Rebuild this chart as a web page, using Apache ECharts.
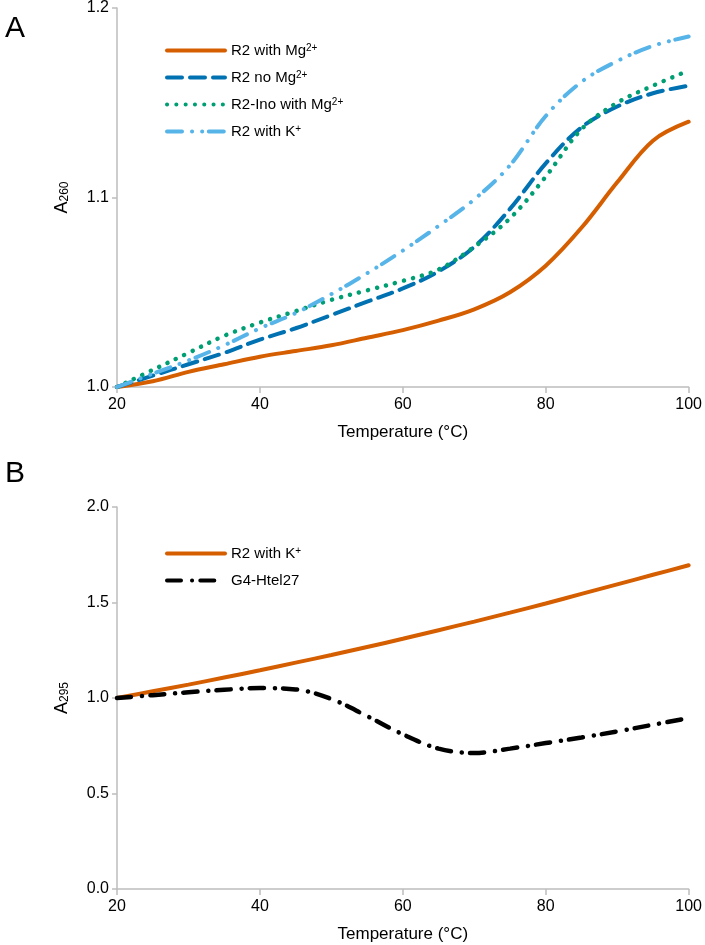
<!DOCTYPE html>
<html><head><meta charset="utf-8">
<script src="https://cdn.jsdelivr.net/npm/echarts@6/dist/echarts.min.js"></script>
<style>html,body{margin:0;padding:0;background:#fff}#c{width:705px;height:945px}</style>
</head><body><div id="c"></div>
<script>
// Temperatures (°C)
const temps = [20,25,30,35,40,45,50,55,60,65,70,75,80,85,90,95,100];
// Panel A: A260
const r2WithMg = [1.000,1.003,1.008,1.012,1.016,1.019,1.022,1.026,1.030,1.035,1.041,1.050,1.064,1.084,1.108,1.130,1.140];
const r2NoMg   = [1.000,1.006,1.012,1.018,1.025,1.031,1.038,1.045,1.052,1.061,1.074,1.094,1.118,1.137,1.148,1.155,1.159];
const r2InoMg  = [1.000,1.009,1.018,1.027,1.034,1.040,1.046,1.051,1.056,1.062,1.074,1.089,1.111,1.136,1.150,1.159,1.167];
const r2WithK_A= [1.000,1.007,1.014,1.022,1.031,1.039,1.049,1.060,1.072,1.085,1.099,1.117,1.143,1.161,1.172,1.180,1.185];
// Panel B: A295
const r2WithK_B= [1.000,1.035,1.070,1.107,1.145,1.185,1.225,1.267,1.310,1.355,1.400,1.447,1.495,1.545,1.595,1.645,1.695];
const g4Htel27 = [1.000,1.015,1.030,1.043,1.052,1.045,0.995,0.905,0.810,0.735,0.712,0.735,0.764,0.793,0.825,0.860,0.895];

const namesA = ['R2 with Mg2+','R2 no Mg2+','R2-Ino with Mg2+','R2 with K+'];
const namesB = ['R2 with K+ ','G4-Htel27'];
const legendRich = {
  'R2 with Mg2+':'{t|R2 with Mg}{s|2+}',
  'R2 no Mg2+':'{t|R2 no Mg}{s|2+}',
  'R2-Ino with Mg2+':'{t|R2-Ino with Mg}{s|2+}',
  'R2 with K+':'{t|R2 with K}{s|+}',
  'R2 with K+ ':'{t|R2 with K}{s|+}',
  'G4-Htel27':'{t|G4-Htel27}'
};
const FONT = 'Liberation Sans, Arial, Helvetica, sans-serif';
const pts = arr => temps.map((t,i)=>[t,arr[i]]);

const richText = {
  t:{fontSize:15,lineHeight:15,verticalAlign:'bottom',color:'#000',fontFamily:FONT},
  s:{fontSize:10,lineHeight:10,padding:[0,0,7,0],verticalAlign:'top',color:'#000',fontFamily:FONT}
};
const nameRich = {
  a:{fontSize:18,lineHeight:18,verticalAlign:'top',color:'#000',fontFamily:FONT},
  b:{fontSize:12,lineHeight:12,padding:[9,0,0,0],verticalAlign:'bottom',color:'#000',fontFamily:FONT}
};
const axisGray = '#bdbdbd';
function xAx(idx){
  return {type:'value',gridIndex:idx,min:20,max:100,interval:20,
    name:'Temperature (°C)',nameLocation:'middle',nameGap:37,
    nameTextStyle:{fontSize:17,color:'#000',fontFamily:FONT},
    axisLine:{lineStyle:{color:axisGray,width:1.5}},
    axisTick:{show:true,length:6,lineStyle:{color:axisGray,width:1.5}},
    axisLabel:{fontSize:16,color:'#000',fontFamily:FONT,margin:10},
    splitLine:{show:false}};
}
function yAx(idx,min,max,interval,sub){
  return {type:'value',gridIndex:idx,min:min,max:max,interval:interval,
    name:'{a|A}{b|'+sub+'}',nameLocation:'middle',nameGap:46,
    nameTextStyle:{rich:nameRich},
    axisLine:{show:true,lineStyle:{color:axisGray,width:1.5}},
    axisTick:{show:true,length:5,lineStyle:{color:axisGray,width:1.5}},
    axisLabel:{fontSize:16,color:'#000',fontFamily:FONT,margin:8,formatter:v=>v.toFixed(1)},
    splitLine:{show:false}};
}
function line(name,data,color,type,width,xi){
  return {name:name,type:'line',xAxisIndex:xi,yAxisIndex:xi,data:pts(data),smooth:0.35,
    symbol:'none',lineStyle:{color:color,width:width,type:type,cap:'round'},itemStyle:{color:color}};
}
function legendOf(names,top){
  return {data:names,orient:'vertical',left:160,top:top,itemWidth:58,itemHeight:14,itemGap:10,
    itemStyle:{opacity:0,borderWidth:0},
    lineStyle:{width:4,cap:'round'},
    formatter:n=>legendRich[n],textStyle:{rich:richText,padding:[0,0,0,1]}};
}
const option = {
  animation:false,
  backgroundColor:'#fff',
  title:[
    {text:'A',left:0,top:9,textStyle:{fontSize:30,fontWeight:'normal',color:'#000',fontFamily:FONT}},
    {text:'B',left:0,top:454,textStyle:{fontSize:30,fontWeight:'normal',color:'#000',fontFamily:FONT}}
  ],
  grid:[{left:117,right:14,top:5,height:382},{left:117,right:14,top:507,height:382}],
  xAxis:[xAx(0),xAx(1)],
  yAxis:[yAx(0,1.0,1.2,0.1,'260'),yAx(1,0,2,0.5,'295')],
  legend:[legendOf(namesA,38),legendOf(namesB,541)],
  series:[
    line(namesA[0],r2WithMg,'#D55E00','solid',4,0),
    line(namesA[1],r2NoMg,'#0072B2',[15,8],4,0),
    line(namesA[2],r2InoMg,'#009E73',[0.1,9.2],4.5,0),
    line(namesA[3],r2WithK_A,'#56B4E9',[15,10,0.1,10,0.1,6.6],4,0),
    line(namesB[0],r2WithK_B,'#D55E00','solid',4,1),
    line(namesB[1],g4Htel27,'#000000',[14,11,0.1,8.2],4.5,1)
  ]
};
const chart = echarts.init(document.getElementById('c'),null,{renderer:'canvas'});
chart.setOption(option);
</script></body></html>
